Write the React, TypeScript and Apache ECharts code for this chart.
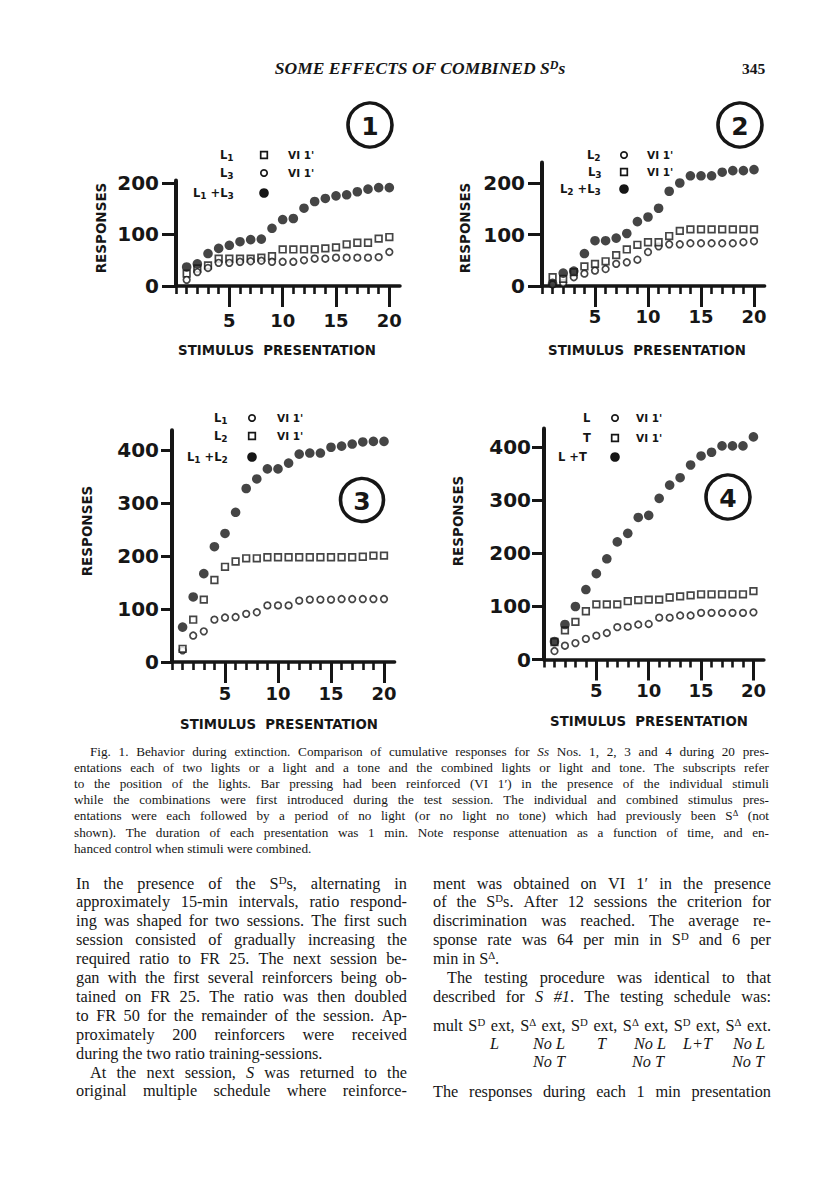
import React, { useEffect, useRef } from 'react';
import * as echarts from 'echarts';

// ---------------- DATA ----------------
const PRESENTATIONS = [1, 2, 3, 4, 5, 6, 7, 8, 9, 10, 11, 12, 13, 14, 15, 16, 17, 18, 19, 20];

// Panel 1 (S 1): L1 squares, L3 open circles, L1+L3 filled
const P1_L1 = [24, 34, 40, 53, 53, 53, 53, 55, 58, 71, 71, 71, 71, 73, 75, 81, 84, 84, 92, 95];
const P1_L3 = [12, 27, 35, 45, 45, 47, 48, 49, 47, 47, 47, 50, 53, 53, 55, 55, 55, 55, 56, 66];
const P1_L1L3 = [37, 43, 63, 73, 79, 86, 90, 91, 112, 129, 131, 151, 164, 170, 175, 177, 183, 188, 191, 191];

// Panel 2 (S 2): L2 open circles, L3 squares, L2+L3 filled
const P2_L2 = [3, 6, 17, 24, 30, 33, 43, 46, 51, 66, 77, 81, 81, 83, 83, 83, 83, 83, 85, 87];
const P2_L3 = [17, 14, 27, 38, 43, 48, 60, 71, 80, 85, 85, 97, 107, 110, 110, 110, 110, 110, 110, 110];
const P2_L2L3 = [5, 25, 29, 63, 88, 88, 93, 102, 125, 134, 151, 184, 200, 214, 214, 214, 221, 224, 224, 226];

// Panel 3 (S 3): L1 open circles, L2 squares, L1+L2 filled
const P3_L1 = [22, 50, 58, 80, 84, 85, 91, 94, 107, 107, 107, 116, 118, 118, 118, 119, 119, 119, 119, 119];
const P3_L2 = [25, 80, 118, 155, 180, 190, 196, 196, 198, 198, 198, 198, 198, 198, 198, 198, 198, 199, 201, 201];
const P3_L1L2 = [66, 123, 167, 218, 243, 283, 328, 346, 365, 365, 376, 393, 395, 395, 406, 408, 412, 416, 417, 417];

// Panel 4 (S 4): L open circles, T squares, L+T filled
const P4_L = [16, 26, 31, 39, 45, 50, 61, 62, 66, 67, 79, 79, 83, 83, 88, 88, 88, 88, 88, 89];
const P4_T = [33, 55, 71, 91, 104, 104, 104, 110, 112, 113, 113, 117, 119, 121, 123, 123, 123, 123, 123, 129];
const P4_LT = [34, 66, 100, 132, 162, 190, 222, 238, 268, 272, 304, 329, 343, 367, 384, 391, 403, 403, 403, 420];

const Y_TICKS_SMALL = [0, 100, 200];
const Y_TICKS_LARGE = [0, 100, 200, 300, 400];
const X_MINOR_TICKS = [0, 1, 2, 3, 4, 5, 6, 7, 8, 9, 10, 11, 12, 13, 14, 15, 16, 17, 18, 19, 20];
const X_MAJOR_TICKS = [5, 10, 15, 20];

const X_TITLE = 'STIMULUS  PRESENTATION';
const Y_TITLE = 'RESPONSES';

// ---------------- TEXT ----------------
const HEADER = 'SOME EFFECTS OF COMBINED S{sup|D}s';
const PAGE_NO = '345';

const CAPTION = [
  'Fig. 1. Behavior during extinction. Comparison of cumulative responses for {i|Ss} Nos. 1, 2, 3 and 4 during 20 pres-',
  'entations each of two lights or a light and a tone and the combined lights or light and tone. The subscripts refer',
  'to the position of the lights. Bar pressing had been reinforced (VI 1\u2032) in the presence of the individual stimuli',
  'while the combinations were first introduced during the test session. The individual and combined stimulus pres-',
  'entations were each followed by a period of no light (or no light no tone) which had previously been S{sup|\u0394} (not',
  'shown). The duration of each presentation was 1 min. Note response attenuation as a function of time, and en-',
  'hanced control when stimuli were combined.',
];

const LEFT_COL = [
  'In the presence of the S{sup|D}s, alternating in',
  'approximately 15-min intervals, ratio respond-',
  'ing was shaped for two sessions. The first such',
  'session consisted of gradually increasing the',
  'required ratio to FR 25. The next session be-',
  'gan with the first several reinforcers being ob-',
  'tained on FR 25. The ratio was then doubled',
  'to FR 50 for the remainder of the session. Ap-',
  'proximately 200 reinforcers were received',
  'during the two ratio training-sessions.',
  'At the next session, {i|S} was returned to the',
  'original multiple schedule where reinforce-',
];

const RIGHT_COL = [
  'ment was obtained on VI 1\u2032 in the presence',
  'of the S{sup|D}s. After 12 sessions the criterion for',
  'discrimination was reached. The average re-',
  'sponse rate was 64 per min in S{sup|D} and 6 per',
  'min in S{sup|\u0394}.',
  'The testing procedure was identical to that',
  'described for {i|S} {i|#1}. The testing schedule was:',
  'mult S{sup|D} ext, S{sup|\u0394} ext, S{sup|D} ext, S{sup|\u0394} ext, S{sup|D} ext, S{sup|\u0394} ext.',
];
const SCHEDULE_ROW1 = ['L', 'No L', 'T', 'No L', 'L+T', 'No L'];
const SCHEDULE_ROW2 = ['No T', 'No T', 'No T'];
const LAST_RIGHT = 'The responses during each 1 min presentation';

// ---------------- STYLE / LAYOUT ----------------
const INK = '#161616';
const SERIF = '"Liberation Serif", "Times New Roman", serif';
const SANS = '"DejaVu Sans", Verdana, sans-serif';
const SUP_RATIO = 0.66;

type Kind = 'filled' | 'circle' | 'square';

const PANELS = [
  {
    num: '1',
    grid: { left: 176, top: 180.4, width: 224, height: 105.6 },
    ymax: 205, yTicks: Y_TICKS_SMALL, yTickLen: 14, yLabelMargin: 17, xLabelMargin: 25,
    series: [
      { name: 'L1', data: P1_L1, kind: 'square' as Kind },
      { name: 'L3', data: P1_L3, kind: 'circle' as Kind },
      { name: 'L1+L3', data: P1_L1L3, kind: 'filled' as Kind },
    ],
    legend: {
      rows: [
        { label: 'L{s|1}', x: 220, y: 155, kind: 'square' as Kind, vi: true },
        { label: 'L{s|3}', x: 220, y: 173, kind: 'circle' as Kind, vi: true },
        { label: 'L{s|1} +L{s|3}', x: 193, y: 193, kind: 'filled' as Kind, vi: false },
      ],
      markerX: 264, viX: 288,
    },
    circle: { cx: 370, cy: 125, r: 22 },
    yTitle: { x: 101, y: 228 },
    xTitle: { x: 277, y: 350 },
  },
  {
    num: '2',
    grid: { left: 542, top: 162.4, width: 222.6, height: 123.6 },
    ymax: 240, yTicks: Y_TICKS_SMALL, yTickLen: 14, yLabelMargin: 17, xLabelMargin: 21,
    series: [
      { name: 'L2', data: P2_L2, kind: 'circle' as Kind },
      { name: 'L3', data: P2_L3, kind: 'square' as Kind },
      { name: 'L2+L3', data: P2_L2L3, kind: 'filled' as Kind },
    ],
    legend: {
      rows: [
        { label: 'L{s|2}', x: 587, y: 155, kind: 'circle' as Kind, vi: true },
        { label: 'L{s|3}', x: 588, y: 172, kind: 'square' as Kind, vi: true },
        { label: 'L{s|2} +L{s|3}', x: 560, y: 189, kind: 'filled' as Kind, vi: false },
      ],
      markerX: 624, viX: 647,
    },
    circle: { cx: 740, cy: 125, r: 22 },
    yTitle: { x: 465, y: 228 },
    xTitle: { x: 647, y: 350 },
  },
  {
    num: '3',
    grid: { left: 172, top: 430.3, width: 222.6, height: 231.7 },
    ymax: 438, yTicks: Y_TICKS_LARGE, yTickLen: 11, yLabelMargin: 13, xLabelMargin: 22,
    series: [
      { name: 'L1', data: P3_L1, kind: 'circle' as Kind },
      { name: 'L2', data: P3_L2, kind: 'square' as Kind },
      { name: 'L1+L2', data: P3_L1L2, kind: 'filled' as Kind },
    ],
    legend: {
      rows: [
        { label: 'L{s|1}', x: 214, y: 418, kind: 'circle' as Kind, vi: true },
        { label: 'L{s|2}', x: 214, y: 436, kind: 'square' as Kind, vi: true },
        { label: 'L{s|1} +L{s|2}', x: 187, y: 457, kind: 'filled' as Kind, vi: false },
      ],
      markerX: 252, viX: 277,
    },
    circle: { cx: 362, cy: 500, r: 21.5 },
    yTitle: { x: 87, y: 531 },
    xTitle: { x: 279, y: 724 },
  },
  {
    num: '4',
    grid: { left: 544, top: 428.4, width: 219.9, height: 231.1 },
    ymax: 436, yTicks: Y_TICKS_LARGE, yTickLen: 12, yLabelMargin: 13, xLabelMargin: 22,
    series: [
      { name: 'L', data: P4_L, kind: 'circle' as Kind },
      { name: 'T', data: P4_T, kind: 'square' as Kind },
      { name: 'L+T', data: P4_LT, kind: 'filled' as Kind },
    ],
    legend: {
      rows: [
        { label: 'L', x: 583, y: 418, kind: 'circle' as Kind, vi: true },
        { label: 'T', x: 583, y: 438, kind: 'square' as Kind, vi: true },
        { label: 'L +T', x: 558, y: 457, kind: 'filled' as Kind, vi: false },
      ],
      markerX: 615, viX: 636,
    },
    circle: { cx: 728, cy: 497, r: 22 },
    yTitle: { x: 458, y: 521 },
    xTitle: { x: 649, y: 721 },
  },
];

// ---------------- TEXT HELPERS ----------------
let measureCtx: CanvasRenderingContext2D | null = null;
function measure(text: string, size: number, italic = false): number {
  if (!measureCtx) measureCtx = document.createElement('canvas').getContext('2d');
  if (!measureCtx) return text.length * size * 0.45;
  measureCtx.font = `${italic ? 'italic ' : ''}${size}px ${SERIF}`;
  return measureCtx.measureText(text).width;
}

function splitWords(line: string): string[] {
  const words: string[] = [];
  let cur = '';
  let depth = 0;
  for (const ch of line) {
    if (ch === '{') depth++;
    if (ch === '}') depth--;
    if (ch === ' ' && depth === 0) {
      if (cur) words.push(cur);
      cur = '';
    } else cur += ch;
  }
  if (cur) words.push(cur);
  return words;
}

function wordWidth(word: string, size: number): number {
  const re = /\{(\w+)\|([^}]*)\}|([^{]+)/g;
  let w = 0;
  let m: RegExpExecArray | null;
  while ((m = re.exec(word))) {
    if (m[3] !== undefined) w += measure(m[3], size);
    else if (m[1] === 'sup') w += measure(m[2], size * SUP_RATIO);
    else if (m[1] === 'i') w += measure(m[2], size, true);
    else w += measure(m[2], size);
  }
  return w;
}

function proseLine(markup: string, x: number, y: number, size: number, lineH: number, width: number | null) {
  let text = markup;
  let gap = 4;
  if (width != null) {
    const words = splitWords(markup);
    const total = words.reduce((s, w) => s + wordWidth(w, size), 0);
    gap = Math.max(1.5, (width - total) / Math.max(1, words.length - 1));
    text = words.join('{g| }');
  }
  return {
    type: 'text',
    x,
    y,
    silent: true,
    style: {
      text,
      fontFamily: SERIF,
      fontSize: size,
      fill: INK,
      align: 'left',
      verticalAlign: 'middle',
      lineHeight: lineH,
      rich: {
        sup: { fontFamily: SERIF, fontSize: size * SUP_RATIO, lineHeight: Math.round(size * 0.6), verticalAlign: 'top', fill: INK },
        i: { fontFamily: SERIF, fontStyle: 'italic', fontSize: size, fill: INK },
        g: { width: gap },
      },
    },
  };
}

function markerEl(kind: Kind, cx: number, cy: number) {
  if (kind === 'filled') {
    return { type: 'circle', silent: true, shape: { cx, cy, r: 4.8 }, style: { fill: INK } };
  }
  if (kind === 'circle') {
    return { type: 'circle', silent: true, shape: { cx, cy, r: 3.2 }, style: { fill: '#fff', stroke: INK, lineWidth: 1.7 } };
  }
  return { type: 'rect', silent: true, shape: { x: cx - 3.3, y: cy - 3.3, width: 6.6, height: 6.6 }, style: { fill: '#fff', stroke: INK, lineWidth: 1.7 } };
}

// ---------------- OPTION ----------------
function buildOption() {
  const grid: any[] = [];
  const xAxis: any[] = [];
  const yAxis: any[] = [];
  const series: any[] = [];
  const graphic: any[] = [];

  PANELS.forEach((p, i) => {
    grid.push({ ...p.grid, containLabel: false, outerBoundsMode: 'none' });

    // fine ticks + axis line
    xAxis.push({
      type: 'value', gridIndex: i, min: 0, max: 21, position: 'bottom',
      axisLine: { show: true, onZero: false, lineStyle: { color: INK, width: 3.5 } },
      axisTick: { show: true, customValues: X_MINOR_TICKS, length: 8, lineStyle: { color: INK, width: 2.6 } },
      axisLabel: { show: false },
      splitLine: { show: false },
    });
    // long ticks + labels
    xAxis.push({
      type: 'value', gridIndex: i, min: 0, max: 21, position: 'bottom',
      axisLine: { show: false },
      axisTick: { show: true, customValues: X_MAJOR_TICKS, length: 21, lineStyle: { color: INK, width: 3 } },
      axisLabel: {
        show: true, customValues: X_MAJOR_TICKS, fontSize: 18, fontWeight: 'bold', fontFamily: SANS,
        color: INK, margin: p.xLabelMargin,
      },
      splitLine: { show: false },
    });

    yAxis.push({
      type: 'value', gridIndex: i, min: 0, max: p.ymax,
      axisLine: { show: true, onZero: false, lineStyle: { color: INK, width: 4 } },
      axisTick: { show: true, customValues: p.yTicks, length: p.yTickLen, lineStyle: { color: INK, width: 3 } },
      axisLabel: {
        show: true, customValues: p.yTicks, fontSize: 20, fontWeight: 'bold', fontFamily: SANS,
        color: INK, margin: p.yLabelMargin,
      },
      splitLine: { show: false },
    });

    p.series.forEach((s) => {
      const filled = s.kind === 'filled';
      series.push({
        type: 'scatter',
        name: s.name,
        xAxisIndex: 2 * i,
        yAxisIndex: i,
        data: PRESENTATIONS.map((x, k) => [x, s.data[k]]),
        symbol: s.kind === 'square' ? 'rect' : 'circle',
        symbolSize: filled ? 9.6 : 6.6,
        itemStyle: filled ? { color: INK } : { color: '#fff', borderColor: INK, borderWidth: 1.7 },
        z: filled ? 4 : 3,
        silent: true,
        emphasis: { disabled: true },
      });
    });

    // legend rows
    p.legend.rows.forEach((r) => {
      graphic.push({
        type: 'text', x: r.x, y: r.y, silent: true,
        style: {
          text: r.label, fontFamily: SANS, fontWeight: 'bold', fontSize: 11.5, lineHeight: 14,
          align: 'left', verticalAlign: 'middle', fill: INK,
          rich: { s: { fontFamily: SANS, fontWeight: 'bold', fontSize: 9, lineHeight: 8, verticalAlign: 'bottom', fill: INK } },
        },
      });
      graphic.push(markerEl(r.kind, p.legend.markerX, r.y));
      if (r.vi) {
        graphic.push({
          type: 'text', x: p.legend.viX, y: r.y, silent: true,
          style: { text: "VI 1'", fontFamily: SANS, fontWeight: 'bold', fontSize: 10.5, align: 'left', verticalAlign: 'middle', fill: INK },
        });
      }
    });

    // circled panel number
    graphic.push({
      type: 'circle', silent: true,
      shape: { cx: p.circle.cx, cy: p.circle.cy, r: p.circle.r },
      style: { fill: '#fff', stroke: INK, lineWidth: 3.6 },
    });
    graphic.push({
      type: 'text', x: p.circle.cx, y: p.circle.cy + 1, silent: true,
      style: { text: p.num, fontFamily: SANS, fontWeight: 'bold', fontSize: 25, align: 'center', verticalAlign: 'middle', fill: INK },
    });

    // axis titles
    graphic.push({
      type: 'text', x: p.yTitle.x, y: p.yTitle.y, rotation: Math.PI / 2, silent: true,
      style: { text: Y_TITLE, fontFamily: SANS, fontWeight: 'bold', fontSize: 13.5, align: 'center', verticalAlign: 'middle', fill: INK },
    });
    graphic.push({
      type: 'text', x: p.xTitle.x, y: p.xTitle.y, silent: true,
      style: { text: X_TITLE, fontFamily: SANS, fontWeight: 'bold', fontSize: 13.3, align: 'center', verticalAlign: 'middle', fill: INK },
    });
  });

  // running head
  graphic.push({
    type: 'text', x: 420, y: 68, silent: true,
    style: {
      text: HEADER, fontFamily: SERIF, fontStyle: 'italic', fontWeight: 'bold', fontSize: 17.5, lineHeight: 19,
      align: 'center', verticalAlign: 'middle', fill: INK,
      rich: { sup: { fontFamily: SERIF, fontStyle: 'italic', fontWeight: 'bold', fontSize: 12, lineHeight: 11, verticalAlign: 'top', fill: INK } },
    },
  });
  graphic.push({
    type: 'text', x: 742, y: 68, silent: true,
    style: { text: PAGE_NO, fontFamily: SERIF, fontWeight: 'bold', fontSize: 15.5, align: 'left', verticalAlign: 'middle', fill: INK },
  });

  // caption
  const capSize = 13.2;
  const capLeft = 74;
  const capRight = 769;
  CAPTION.forEach((line, k) => {
    const x = k === 0 ? 90 : capLeft;
    const justify = k < CAPTION.length - 1;
    graphic.push(proseLine(line, x, 751 + k * 16.2, capSize, 15, justify ? capRight - x : null));
  });

  // body text
  const bodySize = 16.3;
  const lineStep = 18.9;
  const leftX = 76;
  const leftR = 407;
  LEFT_COL.forEach((line, k) => {
    const indent = k === 10 ? 14 : 0;
    const justify = k !== 9;
    graphic.push(proseLine(line, leftX + indent, 883 + k * lineStep, bodySize, 18, justify ? leftR - leftX - indent : null));
  });
  const rightX = 433;
  const rightR = 771;
  RIGHT_COL.forEach((line, k) => {
    const indent = k === 5 ? 14 : 0;
    const justify = k !== 4;
    const y = k < 7 ? 883 + k * lineStep : 1025;
    graphic.push(proseLine(line, rightX + indent, y, bodySize, 18, justify ? rightR - rightX - indent : null));
  });
  const row1X = [490, 533, 597, 634, 683, 733];
  SCHEDULE_ROW1.forEach((t, k) => {
    graphic.push({
      type: 'text', x: row1X[k], y: 1043, silent: true,
      style: { text: t, fontFamily: SERIF, fontStyle: 'italic', fontSize: bodySize, align: 'left', verticalAlign: 'middle', fill: INK },
    });
  });
  const row2X = [533, 632, 732];
  SCHEDULE_ROW2.forEach((t, k) => {
    graphic.push({
      type: 'text', x: row2X[k], y: 1061, silent: true,
      style: { text: t, fontFamily: SERIF, fontStyle: 'italic', fontSize: bodySize, align: 'left', verticalAlign: 'middle', fill: INK },
    });
  });
  graphic.push(proseLine(LAST_RIGHT, rightX, 1091, bodySize, 18, rightR - rightX));

  return {
    animation: false,
    backgroundColor: '#ffffff',
    grid,
    xAxis,
    yAxis,
    series,
    graphic,
  };
}

export default function App() {
  const ref = useRef<HTMLDivElement>(null);
  useEffect(() => {
    if (!ref.current) return;
    const chart = echarts.init(ref.current, null, { renderer: 'svg' });
    chart.setOption(buildOption() as any);
    return () => {
      chart.dispose();
    };
  }, []);
  return (
    <div
      ref={ref}
      style={{ position: 'absolute', left: 0, top: 0, width: 816, height: 1188, background: '#fff' }}
    />
  );
}
